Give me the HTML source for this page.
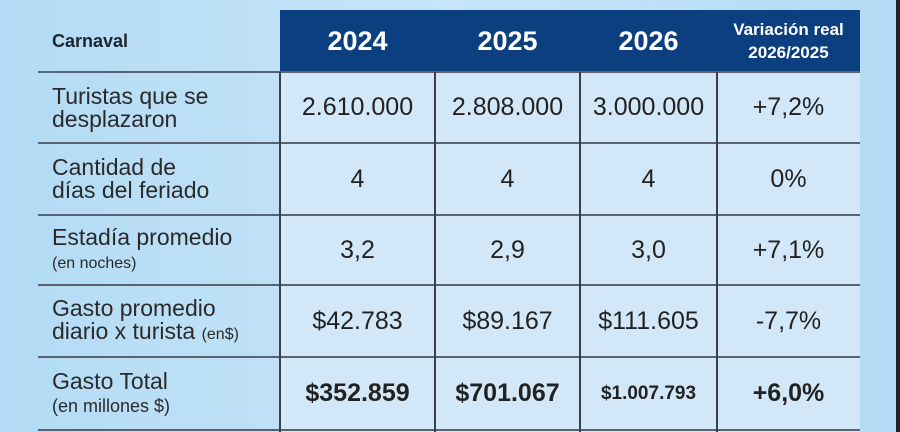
<!DOCTYPE html>
<html><head><meta charset="utf-8"><style>
body{margin:0;width:900px;height:432px;overflow:hidden;background:linear-gradient(90deg,#b3dbf5,#c6e5f8 50%,#b3dbf5);font-family:"Liberation Sans",Carlito,sans-serif;position:relative}
.r{position:absolute;right:0;top:0;width:4px;height:432px;background:#222}
.c{position:absolute;display:flex;align-items:center;justify-content:center;text-align:center;color:#222;font-size:25px;box-sizing:border-box}
.h{background:#0c3f7f;color:#fff;font-weight:bold;font-size:27px}
.l{justify-content:flex-start;text-align:left;font-size:23px;line-height:23px;color:#2a2a2a}
.b{background:#d2e8f8}
.s{font-size:16px}
.hl{position:absolute;left:38px;width:822px;height:2px;background:#5a6470}
.vl{position:absolute;width:2px;background:#3a3f48;top:72px;height:360px}
</style></head><body>
<div class="c h" style="left:280px;top:10px;width:580px;height:62px"></div>
<div class="c l" style="left:52px;top:10px;width:220px;height:62px;font-weight:bold;font-size:18px;color:#1c2530">Carnaval</div>
<div class="c h" style="left:280px;top:10px;width:155px;height:62px">2024</div>
<div class="c h" style="left:435px;top:10px;width:145px;height:62px">2025</div>
<div class="c h" style="left:580px;top:10px;width:137px;height:62px">2026</div>
<div class="c h" style="left:717px;top:10px;width:143px;height:62px;font-size:17px;line-height:23px"><div>Variación real<br>2026/2025</div></div>
<div class="c b" style="left:280px;top:72px;width:580px;height:360px"></div>

<div class="c l" style="left:52px;top:72px;width:228px;height:71px"><div>Turistas que se<br>desplazaron</div></div>
<div class="c" style="left:280px;top:72px;width:155px;height:71px">2.610.000</div>
<div class="c" style="left:435px;top:72px;width:145px;height:71px">2.808.000</div>
<div class="c" style="left:580px;top:72px;width:137px;height:71px">3.000.000</div>
<div class="c" style="left:717px;top:72px;width:143px;height:71px">+7,2%</div>

<div class="c l" style="left:52px;top:143px;width:228px;height:72px"><div>Cantidad de<br>días del feriado</div></div>
<div class="c" style="left:280px;top:143px;width:155px;height:72px">4</div>
<div class="c" style="left:435px;top:143px;width:145px;height:72px">4</div>
<div class="c" style="left:580px;top:143px;width:137px;height:72px">4</div>
<div class="c" style="left:717px;top:143px;width:143px;height:72px">0%</div>

<div class="c l" style="left:52px;top:215px;width:228px;height:70px"><div>Estadía promedio<br><span class="s">(en noches)</span></div></div>
<div class="c" style="left:280px;top:215px;width:155px;height:70px">3,2</div>
<div class="c" style="left:435px;top:215px;width:145px;height:70px">2,9</div>
<div class="c" style="left:580px;top:215px;width:137px;height:70px">3,0</div>
<div class="c" style="left:717px;top:215px;width:143px;height:70px">+7,1%</div>

<div class="c l" style="left:52px;top:285px;width:228px;height:72px"><div>Gasto promedio<br>diario x turista <span class="s">(en$)</span></div></div>
<div class="c" style="left:280px;top:285px;width:155px;height:72px">$42.783</div>
<div class="c" style="left:435px;top:285px;width:145px;height:72px">$89.167</div>
<div class="c" style="left:580px;top:285px;width:137px;height:72px">$111.605</div>
<div class="c" style="left:717px;top:285px;width:143px;height:72px">-7,7%</div>

<div class="c l" style="left:52px;top:357px;width:228px;height:73px"><div>Gasto Total<br><span class="s" style="font-size:18px">(en millones $)</span></div></div>
<div class="c" style="left:280px;top:357px;width:155px;height:73px;font-weight:bold">$352.859</div>
<div class="c" style="left:435px;top:357px;width:145px;height:73px;font-weight:bold">$701.067</div>
<div class="c" style="left:580px;top:357px;width:137px;height:73px;font-weight:bold;font-size:19px">$1.007.793</div>
<div class="c" style="left:717px;top:357px;width:143px;height:73px;font-weight:bold">+6,0%</div>

<div class="hl" style="top:71px"></div>
<div class="hl" style="top:142px"></div>
<div class="hl" style="top:214px"></div>
<div class="hl" style="top:284px"></div>
<div class="hl" style="top:356px"></div>
<div class="hl" style="top:429px"></div>
<div class="vl" style="left:279px"></div>
<div class="vl" style="left:434px"></div>
<div class="vl" style="left:579px"></div>
<div class="vl" style="left:716px"></div>
<div class="r"></div>
</body></html>
